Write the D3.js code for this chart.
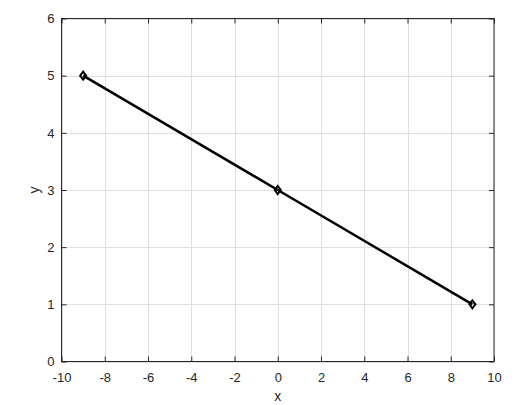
<!DOCTYPE html>
<html><head><meta charset="utf-8">
<script src="https://cdn.jsdelivr.net/npm/d3@7"></script>
<style>body{margin:0;background:#fff}svg{display:block}text{font-family:"Liberation Sans",Arial,sans-serif}</style>
</head><body><svg id="c" width="526" height="405"></svg>
<script>
const xs = [-9, 0, 9];
const ys = [5, 3, 1];
const xTicks = [-10,-8,-6,-4,-2,0,2,4,6,8,10];
const yTicks = [0,1,2,3,4,5,6];
const xLabel = "x", yLabel = "y";

const svg = d3.select("#c");
const L=61.5, R=494, T=18.5, B=361.5;
const x = d3.scaleLinear().domain([-10,10]).range([L,R]);
const y = d3.scaleLinear().domain([0,6]).range([B,T]);
const axc = "#262626";
const fmt = d => String(d);

svg.append("rect").attr("width",526).attr("height",405).attr("fill","#fff");
const g = svg.append("g");
g.selectAll(".gx").data(xTicks).join("line").attr("x1",d=>Math.round(x(d))+0.5).attr("x2",d=>Math.round(x(d))+0.5)
 .attr("y1",T).attr("y2",B).attr("stroke","#dfdfdf").attr("stroke-width",1);
g.selectAll(".gy").data(yTicks).join("line").attr("y1",d=>Math.round(y(d))+0.5).attr("y2",d=>Math.round(y(d))+0.5)
 .attr("x1",L).attr("x2",R).attr("stroke","#dfdfdf").attr("stroke-width",1);

const tl = 5;
const xb = d3.axisBottom(x).tickValues(xTicks).tickFormat(fmt).tickSize(-tl).tickPadding(11);
const xt = d3.axisTop(x).tickValues(xTicks).tickSize(-tl).tickFormat("");
const yl = d3.axisLeft(y).tickValues(yTicks).tickFormat(fmt).tickSize(-tl).tickPadding(7);
const yr = d3.axisRight(y).tickValues(yTicks).tickSize(-tl).tickFormat("");
function style(s){ s.select(".domain").remove(); s.selectAll("line").attr("stroke",axc); s.selectAll("text").attr("fill",axc).style("font-size","13px").style("font-family","'Liberation Sans',Arial,sans-serif"); }
svg.append("g").attr("transform",`translate(0,${B})`).call(xb).call(style);
svg.append("g").attr("transform",`translate(0,${T})`).call(xt).call(style);
svg.append("g").attr("transform",`translate(${L},0)`).call(yl).call(style);
svg.append("g").attr("transform",`translate(${R},0)`).call(yr).call(style);
svg.append("rect").attr("x",L).attr("y",T).attr("width",R-L).attr("height",B-T).attr("fill","none").attr("stroke",axc).attr("stroke-width",1);

const pts = xs.map((v,i)=>[v,ys[i]]);
svg.append("path").datum(pts).attr("d",d3.line().x(d=>x(d[0])).y(d=>y(d[1])))
 .attr("fill","none").attr("stroke","#000").attr("stroke-width",2.5);
svg.selectAll(".m").data(pts).join("path")
 .attr("transform",d=>`translate(${x(d[0])},${y(d[1])})`)
 .attr("d","M0,-4L3,0L0,4L-3,0Z").attr("fill","none").attr("stroke","#000").attr("stroke-width",2);

svg.append("text").attr("x",(L+R)/2).attr("y",401).attr("text-anchor","middle").attr("fill",axc).style("font-size","14px").text(xLabel);
svg.append("text").attr("transform",`translate(39,${(T+B)/2}) rotate(-90)`).attr("text-anchor","middle").attr("fill",axc).style("font-size","14px").text(yLabel);
</script></body></html>
